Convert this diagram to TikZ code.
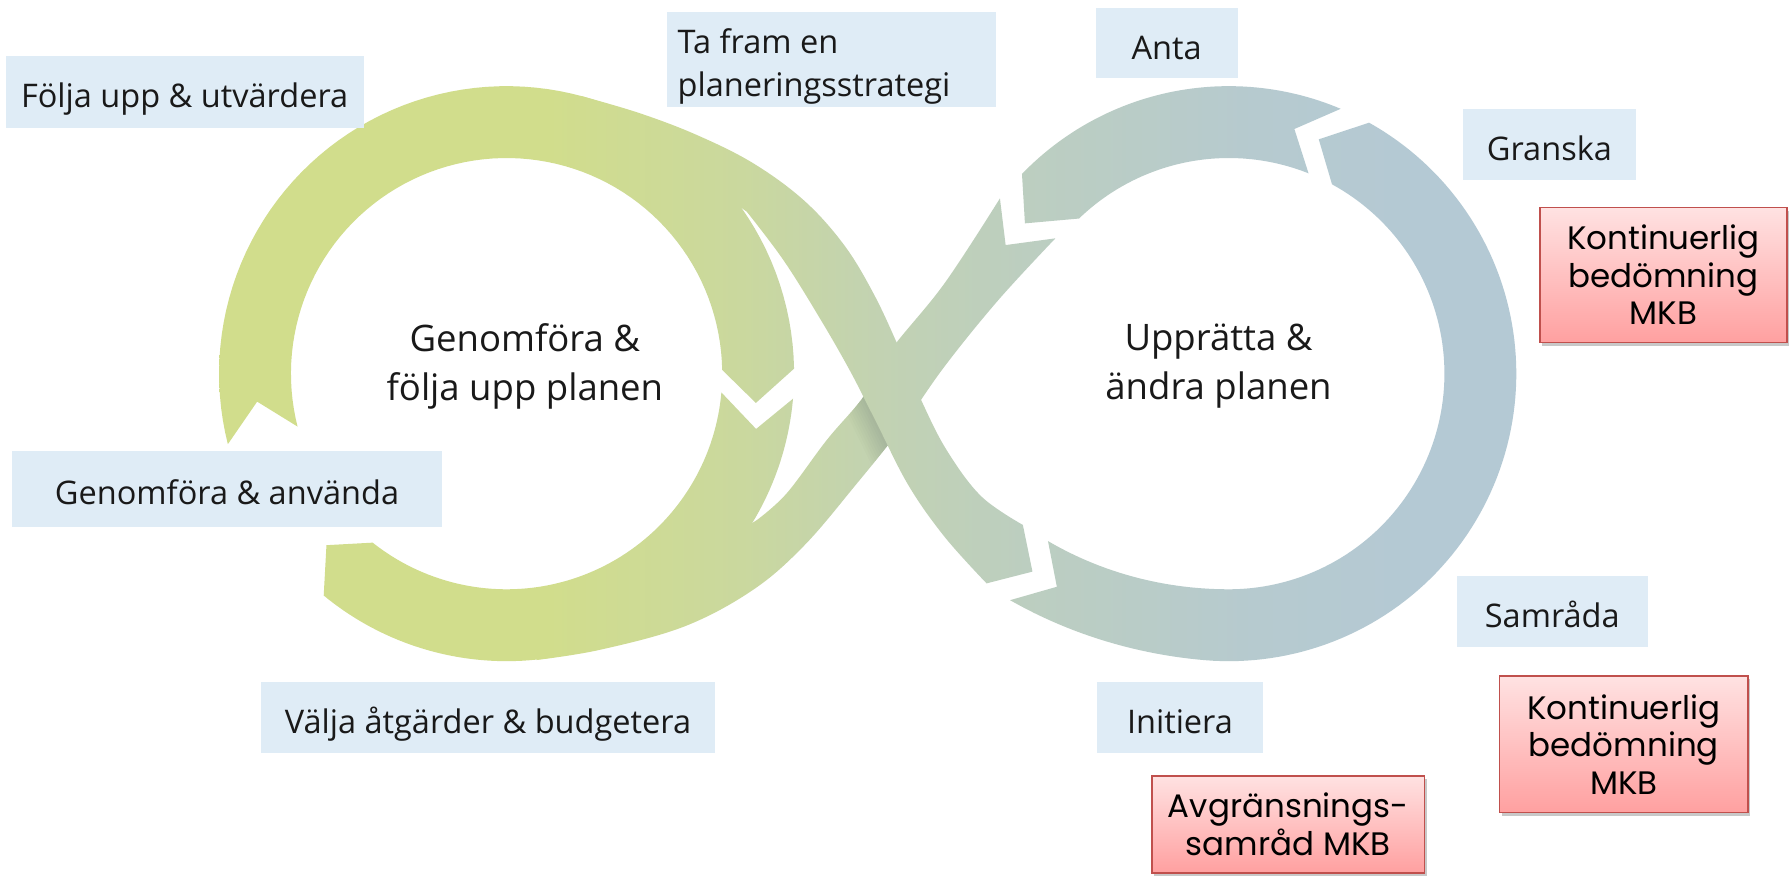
\documentclass[tikz,border=0pt]{standalone}
\usepackage{fontspec}
\setmainfont{Open Sans}
\newfontfamily\mkbfont{Poppins}
\usetikzlibrary{calc,shadows}
\definecolor{gL}{RGB}{209,221,140}
\definecolor{gtwo}{RGB}{202,216,158}
\definecolor{gthree}{RGB}{194,210,178}
\definecolor{gfour}{RGB}{188,206,192}
\definecolor{gfive}{RGB}{182,202,207}
\definecolor{gR}{RGB}{180,201,212}
\definecolor{lblue}{RGB}{223,236,246}
\definecolor{rtop}{RGB}{255,226,226}
\definecolor{rbot}{RGB}{255,160,160}
\definecolor{rborder}{RGB}{192,80,77}
\definecolor{txt}{RGB}{25,25,25}

% horizontal colour run of the bands: the middle 50bp span x = 150 ... 1400
\pgfdeclarehorizontalshading{bandsh}{100bp}{color(0bp)=(gL); color(38.2bp)=(gL); color(45bp)=(gtwo); color(49.8bp)=(gthree); color(55bp)=(gfour); color(63bp)=(gfive); color(69bp)=(gR); color(100bp)=(gR)}

% band outlines (pixel-like units, y downwards)
\newcommand{\pathLone}{plot[domain=165.8:359,samples=80,variable=\t] ({444+252*cos(\t)},{327.5+252*sin(\t)}) -- ({444+220*cos(366.7)},{327.5+220*sin(366.7)}) -- plot[domain=359:165.8,samples=80,variable=\t] ({444+189*cos(\t)},{327.5+189*sin(\t)}) -- ({444+220*cos(173.6)},{327.5+220*sin(173.6)}) -- cycle}
\newcommand{\pathLtwo}{plot[domain=5:129.5,samples=80,variable=\t] ({444+252*cos(\t)},{327.5+252*sin(\t)}) -- ({444+218*cos(136.4)},{327.5+218*sin(136.4)}) -- plot[domain=128.4:5,samples=80,variable=\t] ({444+189*cos(\t)},{327.5+189*sin(\t)}) -- ({444+224*cos(12.5)},{327.5+224*sin(12.5)}) -- cycle}
\newcommand{\pathCBone}{plot[smooth,tension=0.6] coordinates {(509.2,84.1) (560,99) (610,118) (660,143) (705,176) (740,215) (766,258) (788,305) (808,352) (830,395) (860,435) (896.5,460.1)} -- (904.9,501) -- plot[smooth,tension=0.6] coordinates {(864.7,511.3) (827.8,470.4) (796,425) (768,370) (745,325) (718,278) (686.6,227.9) (654.5,185.5)} -- cycle}
\newcommand{\pathCBtwo}{(876.4,173.9) -- (881.4,214.8) -- plot[smooth,tension=0.6] coordinates {(925,208.9) (875,263) (828,321) (790,375) (750,425) (705,478) (660,517) (600,549) (526,569.5) (470,578.5)} -- plot[smooth,tension=0.6] coordinates {(663.4,455.8) (689.5,432.4) (724.6,385.7) (756.7,347.7) (780.8,306.8) (827.8,248.4) (876.4,173.9)} -- cycle}
\newcommand{\pathRtwo}{plot[domain=224:292.9,samples=60,variable=\t] ({1077+252*cos(\t)},{327.5+252*sin(\t)}) -- ({1077+222*cos(285)},{327.5+222*sin(285)}) -- plot[domain=291.7:226,samples=60,variable=\t] ({1077+189*cos(\t)},{327.5+189*sin(\t)}) -- ({1077+222*cos(216.4)},{327.5+222*sin(216.4)}) -- cycle}
\newcommand{\pathRone}{plot[domain=-60.8:134,samples=120,variable=\t] ({1077+(252+24*pow(max(0,(\t-95)/39),2))*cos(\t)},{327.5+(252+24*pow(max(0,(\t-95)/39),2))*sin(\t)}) -- ({1077+240*cos(128.9)},{327.5+240*sin(128.9)}) -- plot[domain=137.2:-61.4,samples=120,variable=\t] ({1077+(189+27*pow(max(0,(\t-90)/47.2),2))*cos(\t)},{327.5+(189+27*pow(max(0,(\t-90)/47.2),2))*sin(\t)}) -- ({1077+220*cos(-69)},{327.5+220*sin(-69)}) -- cycle}

\newcommand{\bandfill}[1]{\begin{scope}\clip #1; \shade[shading=bandsh] (150,0) rectangle (1400,767);\end{scope}}

\begin{document}
\begin{tikzpicture}[x=1pt,y=-1pt,
  lbl/.style={fill=lblue, inner sep=0pt, text=txt, font=\fontsize{28.5}{37}\selectfont, text height=28pt, text depth=0pt},
  lblbox/.style={fill=lblue, inner sep=0pt},
  lbltext/.style={inner sep=0pt, text=txt, font=\fontsize{28.5}{37}\selectfont, anchor=base west},
  mkb/.style={draw=rborder, line width=1.3pt, top color=rtop, bottom color=rbot, inner sep=0pt, align=center, text=black,
     font=\mkbfont\fontsize{28.5}{33}\selectfont,
     drop shadow={shadow xshift=2pt, shadow yshift=-3pt, opacity=0.3, fill=black!70}},
  midtext/.style={align=center, text=txt, font=\fontsize{32}{42.6}\selectfont}
]
\useasboundingbox[fill=white] (0,0) rectangle (1568,767);

% bands
\bandfill{\pathLtwo}
\bandfill{\pathCBtwo}
\begin{scope}
  \clip \pathCBtwo;
  \foreach \i in {1,...,9} {
    \fill[black, opacity=0.012, shift={(-2.5*\i,0)}] \pathCBone;
  }
\end{scope}
\bandfill{\pathLone}
\bandfill{\pathCBone}
\bandfill{\pathRtwo}
\bandfill{\pathRone}

% centre texts
\node[midtext] (leftc) at (460,321) {Genomföra \&\\följa upp planen};
\node[midtext] (rightc) at (1068,321) {Upprätta \&\\ändra planen};

% step labels
\node[lbl, minimum width=313.6pt, minimum height=63pt] (folja) at (161.8,80.5) {Följa upp \& utvärdera};
\node[lblbox, minimum width=288.4pt, minimum height=84pt] (tafram) at (728.8,52.2) {};
\node[lbltext] (tafram1) at (593.8,46.8) {Ta fram en};
\node[lbltext] (tafram2) at (593.8,84.2) {planeringsstrategi};
\node[lbl, minimum width=124.5pt, minimum height=61.4pt] (anta) at (1022.5,38) {Anta};
\node[lbl, minimum width=151.5pt, minimum height=62pt] (granska) at (1358,126.8) {Granska};
\node[lbl, minimum width=376.7pt, minimum height=66.6pt] (genanv) at (199,428.3) {Genomföra \& använda};
\node[lbl, minimum width=397.5pt, minimum height=62.3pt] (valja) at (427.7,629.1) {Välja åtgärder \& budgetera};
\node[lbl, minimum width=145.8pt, minimum height=62.3pt] (initiera) at (1034.2,629.1) {Initiera};
\node[lbl, minimum width=167.6pt, minimum height=62.2pt] (samrada) at (1360.5,535.7) {Samråda};

% MKB boxes
\node[mkb, minimum width=216.4pt, minimum height=118.7pt] (k1) at (1458,241) {Kontinuerlig\\bedömning\\MKB};
\node[mkb, minimum width=217.7pt, minimum height=119.8pt] (k2) at (1423.2,652.4) {Kontinuerlig\\bedömning\\MKB};
\node[mkb, minimum width=239.2pt, minimum height=85pt] (avg) at (1129.1,722.5) {Avgränsnings-\\samråd MKB};
\end{tikzpicture}
\end{document}
